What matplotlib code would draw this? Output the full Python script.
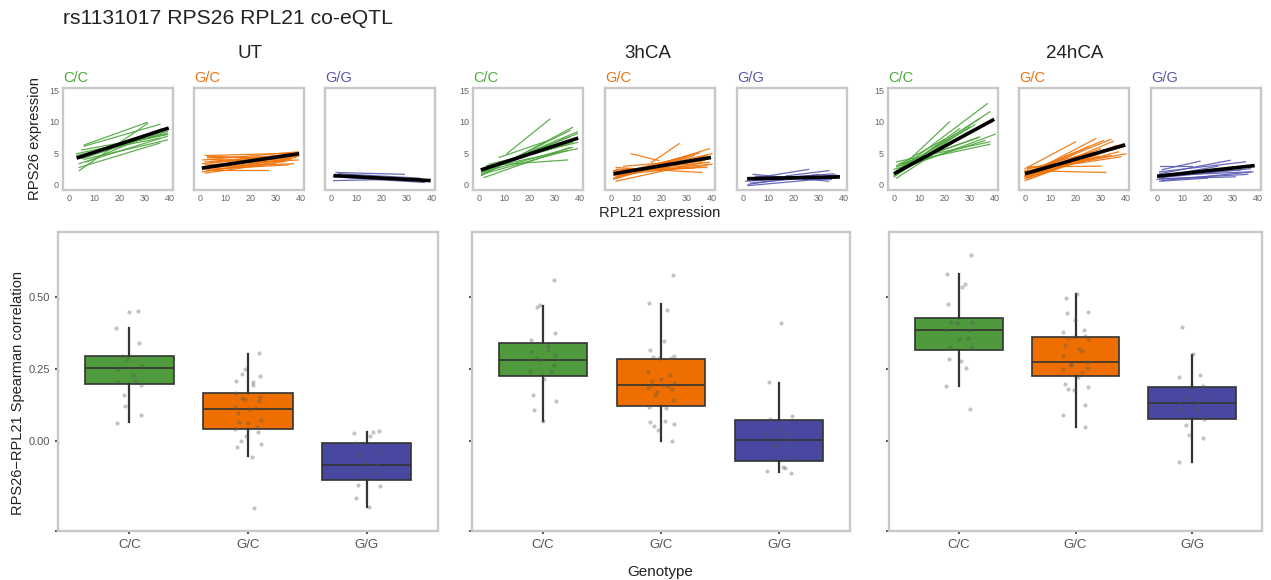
import numpy as np
import matplotlib
matplotlib.use('Agg')
from matplotlib import pyplot as plt

plt.rcParams['font.family'] = ['Liberation Sans', 'DejaVu Sans']

conditions = ['UT', '3hCA', '24hCA']
genotypes = ['C/C', 'G/C', 'G/G']

# colours
line_cols = ['#4fa63e', '#f07208', '#5a5ab4']
box_cols = ['#4e9a3c', '#ee6e00', '#4848a0']
lab_cols = ['#4caa3a', '#f07010', '#5858a8']

# ---- small panels: per-donor regression lines (x0, y0, x1, y1) ----
ut_cc_lines = [(4, 2.7, 36, 6.6), (6, 6.3, 31, 9.9), (6, 6.1, 36, 9.6), (3, 4.9, 39, 8.0),
               (3, 4.6, 39, 8.2), (4, 3.3, 39, 7.7), (5, 4.1, 39, 8.5), (6, 4.0, 39, 7.1),
               (4, 4.4, 37, 8.9), (9, 5.2, 36, 7.4), (4, 2.2, 31, 9.7), (5, 5.5, 38, 7.9),
               (7, 3.6, 35, 8.4)]
ut_gc_lines = [(2, 4.6, 38, 5.0), (3, 4.3, 36, 4.4), (1, 3.9, 39, 5.2), (2, 3.6, 37, 4.8),
               (1, 3.3, 38, 4.6), (4, 3.0, 35, 4.2), (2, 2.8, 39, 4.5), (1, 2.5, 36, 4.0),
               (3, 2.2, 34, 3.7), (1, 2.0, 38, 4.3), (2, 1.8, 30, 3.4), (5, 2.3, 27, 2.3),
               (3, 4.0, 33, 3.6), (2, 3.1, 39, 3.9), (1, 2.7, 37, 3.3), (4, 3.5, 38, 4.9),
               (2, 2.4, 35, 3.1), (3, 4.5, 30, 4.1)]
ut_gg_lines = [(2, 1.9, 29, 1.6), (1, 1.2, 37, 0.3), (1, 0.6, 36, 0.9), (3, 1.7, 35, 1.0),
               (1, 1.4, 38, 0.6)]
ca3_cc_lines = [(11, 4.9, 28, 10.4), (1, 1.4, 37, 9.1), (1, 1.6, 36, 8.6), (1, 2.0, 39, 8.4),
                (3, 3.0, 35, 3.9), (3, 2.7, 39, 5.7), (2, 2.4, 37, 6.7), (4, 3.2, 39, 6.7),
                (1, 1.9, 37, 5.9), (2, 2.1, 36, 7.6), (8, 4.3, 26, 6.8), (2, 2.3, 39, 8.1),
                (2, 1.1, 36, 5.9), (1, 1.6, 35, 5.4), (3, 2.6, 38, 7.2)]
ca3_gc_lines = [(1, 1.0, 39, 5.7), (1, 1.4, 40, 4.9), (2, 1.9, 39, 4.1), (2, 2.4, 38, 2.7),
                (2, 2.7, 36, 1.9), (1, 1.6, 37, 3.8), (4, 2.2, 40, 3.2), (8, 4.9, 19, 3.8),
                (16, 3.5, 27, 6.5), (1, 0.8, 33, 4.6), (2, 0.5, 36, 3.5), (2, 1.1, 38, 4.6),
                (2, 1.5, 38, 3.0), (1, 2.2, 39, 3.5), (3, 1.8, 35, 5.0), (2, 1.3, 30, 4.4),
                (5, 2.9, 38, 4.0), (1, 2.0, 33, 2.6)]
ca3_gg_lines = [(4, 1.6, 34, 0.5), (6, 1.1, 26, 2.4), (17, 1.35, 34, 2.2), (2, -0.2, 38, 1.1),
                (1, 0.5, 38, 1.35), (3, 0.2, 37, 1.5), (2, 0.9, 35, 0.8), (5, 1.3, 37, 1.0),
                (2, 0.0, 30, 1.6), (4, 0.7, 36, 1.7)]
ca24_cc_lines = [(1, 2.0, 37, 12.9), (0, 1.7, 38, 11.6), (1, 2.0, 22, 10.0), (0, 1.2, 30, 9.2),
                 (1, 2.2, 40, 8.0), (1, 2.8, 34, 7.6), (2, 3.3, 38, 6.4), (1, 3.6, 38, 6.8),
                 (0, 1.4, 26, 8.9), (2, 2.5, 32, 9.5), (0, 1.8, 34, 10.5), (1, 3.0, 33, 7.4),
                 (1, 1.0, 29, 8.3), (3, 3.4, 20, 7.2), (0, 2.4, 36, 7.0)]
ca24_gc_lines = [(0, 2.5, 20, 6.8), (0, 1.4, 28, 7.3), (1, 1.7, 34, 7.2), (0, 1.2, 39, 6.5),
                 (0, 2.0, 40, 4.9), (0, 2.2, 32, 1.9), (1, 2.8, 30, 2.9), (0, 0.9, 35, 6.9),
                 (0, 0.6, 33, 5.4), (2, 1.6, 36, 5.9), (0, 2.1, 38, 4.4), (1, 1.1, 30, 5.7),
                 (0, 1.8, 31, 7.0), (1, 2.4, 27, 5.2), (0, 1.3, 37, 5.2), (1, 2.6, 34, 4.6),
                 (0, 1.5, 25, 6.0), (2, 2.0, 39, 6.0), (0, 1.0, 29, 4.5), (1, 0.8, 36, 6.2)]
ca24_gg_lines = [(1, 2.9, 14, 2.9), (2, 2.35, 17, 3.7), (1, 1.7, 29, 3.85), (1, 0.9, 31, 1.2),
                 (1, 1.4, 37, 2.0), (2, 1.1, 37, 2.5), (1, 2.0, 35, 3.6), (2, 0.6, 38, 2.0),
                 (1, 1.2, 24, 2.9), (0, 0.8, 36, 1.6), (3, 1.6, 33, 2.3), (1, 0.5, 20, 1.0)]

# mean regression line per panel (x0, y0, x1, y1)
ut_mean = [(3, 4.2, 39.5, 9.0), (0.7, 2.6, 39.3, 4.9), (1, 1.4, 39.5, 0.6)]
ca3_mean = [(0.7, 2.3, 39.3, 7.4), (1, 1.7, 39.6, 4.3), (1.6, 0.9, 38.4, 1.2)]
ca24_mean = [(0, 1.7, 39.7, 10.4), (0, 1.7, 39.7, 6.3), (0, 1.3, 38.7, 3.0)]

# ---- box panels: [whislo, q1, median, q3, whishi] and per-donor correlations ----
ut_box = [[0.065, 0.198, 0.255, 0.295, 0.391],
          [-0.052, 0.041, 0.111, 0.168, 0.304],
          [-0.229, -0.135, -0.083, -0.008, 0.033]]
ca3_box = [[0.069, 0.226, 0.283, 0.341, 0.468],
           [0.001, 0.121, 0.194, 0.286, 0.477],
           [-0.108, -0.068, 0.003, 0.074, 0.203]]
ca24_box = [[0.192, 0.316, 0.386, 0.429, 0.580],
            [0.048, 0.226, 0.274, 0.362, 0.510],
            [-0.073, 0.078, 0.131, 0.188, 0.300]]

ut_cc_pts = [0.449, 0.450, 0.393, 0.339, 0.284, 0.295, 0.262, 0.250, 0.228, 0.208, 0.206,
             0.194, 0.160, 0.122, 0.090, 0.062]
ut_gc_pts = [0.306, 0.250, 0.233, 0.227, 0.209, 0.206, 0.194, 0.168, 0.154, 0.148, 0.146,
             0.140, 0.119, 0.113, 0.111, 0.096, 0.073, 0.067, 0.061, 0.050, 0.042, 0.033,
             0.019, 0.001, -0.011, -0.022, -0.054, -0.234]
ut_gg_pts = [0.034, 0.028, 0.030, 0.019, -0.008, -0.037, -0.049, -0.075, -0.083, -0.109,
             -0.112, -0.130, -0.153, -0.155, -0.197, -0.229]
ca3_cc_pts = [0.561, 0.472, 0.467, 0.376, 0.350, 0.329, 0.315, 0.310, 0.298, 0.287, 0.282,
              0.264, 0.243, 0.239, 0.215, 0.159, 0.139, 0.108, 0.069]
ca3_gc_pts = [0.576, 0.480, 0.454, 0.346, 0.317, 0.295, 0.293, 0.289, 0.288, 0.241, 0.228,
              0.217, 0.207, 0.202, 0.196, 0.194, 0.190, 0.185, 0.179, 0.171, 0.159, 0.142,
              0.119, 0.113, 0.068, 0.066, 0.060, 0.052, 0.037, 0.001]
ca3_gg_pts = [0.410, 0.205, 0.086, 0.077, 0.041, 0.029, 0.024, 0.003, -0.014, -0.019,
              -0.061, -0.062, -0.090, -0.093, -0.104, -0.110]
ca24_cc_pts = [0.645, 0.581, 0.544, 0.535, 0.476, 0.413, 0.412, 0.409, 0.387, 0.385, 0.359,
               0.355, 0.327, 0.325, 0.286, 0.277, 0.252, 0.191, 0.112]
ca24_gc_pts = [0.510, 0.497, 0.448, 0.445, 0.420, 0.385, 0.378, 0.364, 0.362, 0.359, 0.353,
               0.335, 0.320, 0.314, 0.297, 0.274, 0.269, 0.263, 0.252, 0.250, 0.241, 0.224,
               0.198, 0.188, 0.179, 0.177, 0.126, 0.090, 0.048]
ca24_gg_pts = [0.395, 0.303, 0.230, 0.222, 0.191, 0.182, 0.154, 0.143, 0.137, 0.132, 0.112,
               0.107, 0.078, 0.056, 0.022, 0.011, -0.073]

small_lines = [[ut_cc_lines, ut_gc_lines, ut_gg_lines],
               [ca3_cc_lines, ca3_gc_lines, ca3_gg_lines],
               [ca24_cc_lines, ca24_gc_lines, ca24_gg_lines]]
mean_lines = [ut_mean, ca3_mean, ca24_mean]
box_stats = [ut_box, ca3_box, ca24_box]
box_pts = [[ut_cc_pts, ut_gc_pts, ut_gg_pts],
           [ca3_cc_pts, ca3_gc_pts, ca3_gg_pts],
           [ca24_cc_pts, ca24_gc_pts, ca24_gg_pts]]

W, H = 1271, 580
fig = plt.figure(figsize=(W / 100, H / 100), dpi=100)


def px_axes(x0, y0, x1, y1):
    # axes from pixel box (top-left origin)
    return fig.add_axes([x0 / W, 1 - y1 / H, (x1 - x0) / W, (y1 - y0) / H])


def frame(ax):
    for s in ax.spines.values():
        s.set_color('#c8c8c8')
        s.set_linewidth(1.7)


small_left = [[63, 194, 325], [473, 605, 737], [888, 1019, 1151]]
for c in range(3):
    for g in range(3):
        x0 = small_left[c][g]
        ax = px_axes(x0, 88, x0 + 110, 190)
        for (a, b, d, e) in small_lines[c][g]:
            ax.plot([a, d], [b, e], color=line_cols[g], lw=0.9, alpha=0.9)
        a, b, d, e = mean_lines[c][g]
        ax.plot([a, d], [b, e], color='black', lw=2.6, solid_capstyle='butt')
        ax.set_xlim(-2.4, 41.2)
        ax.set_ylim(-0.9, 15.4)
        ax.set_xticks([0, 10, 20, 30, 40])
        ax.set_yticks([0, 5, 10, 15])
        ax.tick_params(length=0, labelsize=6.5, labelcolor='#666666', pad=3)
        if g > 0:
            ax.set_yticklabels([])
        frame(ax)
        fig.text(x0 / W, 1 - 78 / H, genotypes[g], color=lab_cols[g], fontsize=10.5,
                 ha='left', va='center')

box_px = [(58, 438), (472, 850), (889, 1262)]
for c in range(3):
    ax = px_axes(box_px[c][0], 232, box_px[c][1], 531)
    stats = []
    for g in range(3):
        lo, q1, med, q3, hi = box_stats[c][g]
        stats.append(dict(whislo=lo, q1=q1, med=med, q3=q3, whishi=hi, fliers=[]))
    bp = ax.bxp(stats, positions=[0, 1, 2], widths=0.75, patch_artist=True,
                showfliers=False, showcaps=False,
                boxprops=dict(edgecolor='#333333', linewidth=1.2),
                medianprops=dict(color='#333333', linewidth=1.2),
                whiskerprops=dict(color='#333333', linewidth=1.6))
    for g, patch in enumerate(bp['boxes']):
        patch.set_facecolor(box_cols[g])
    for g in range(3):
        pts = np.array(box_pts[c][g])
        k = np.arange(len(pts))
        jit = 0.11 * np.sin(k * 2.39 + c + g)
        ax.scatter(g + jit, pts, s=9, color='#555555', alpha=0.35, lw=0, zorder=5)
    ax.set_xlim(-0.6, 2.6)
    ax.set_ylim(-0.3125, 0.726)
    ax.set_xticks([0, 1, 2])
    ax.set_xticklabels(genotypes)
    ax.set_yticks([-0.3125, 0.0, 0.25, 0.5])
    if c == 0:
        ax.set_yticklabels(['', '0.00', '0.25', '0.50'])
    else:
        ax.set_yticklabels([])
    ax.tick_params(length=2, width=1.2, color='#333333', labelsize=8,
                   labelcolor='#555555', pad=4)
    ax.tick_params(axis='x', labelsize=9.5)
    frame(ax)

# titles and labels
fig.text(63 / W, 1 - 18 / H, 'rs1131017 RPS26 RPL21 co-eQTL', fontsize=15.2,
         ha='left', va='center', color='#222222')
for c, xc in enumerate([250, 648, 1075]):
    fig.text(xc / W, 1 - 53 / H, conditions[c], fontsize=13.5, ha='center', va='center',
             color='#222222')
fig.text(35 / W, 1 - 139 / H, 'RPS26 expression', rotation=90, fontsize=10.7,
         ha='center', va='center', color='#222222')
fig.text(660 / W, 1 - 213 / H, 'RPL21 expression', fontsize=10.7, ha='center',
         va='center', color='#222222')
fig.text(18 / W, 1 - 393 / H, 'RPS26\u2212RPL21 Spearman correlation', rotation=90,
         fontsize=10.5, ha='center', va='center', color='#222222')
fig.text(660 / W, 1 - 572 / H, 'Genotype', fontsize=11, ha='center', va='center',
         color='#222222')

fig.savefig('out.png', dpi=100)
